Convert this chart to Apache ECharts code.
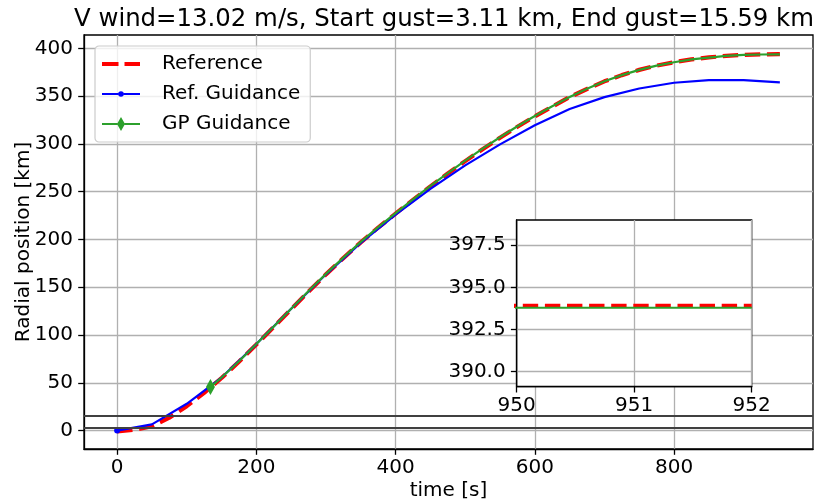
<!DOCTYPE html>
<html><head><meta charset="utf-8">
<script src="https://cdn.jsdelivr.net/npm/echarts@6/dist/echarts.min.js"></script>
<style>html,body{margin:0;padding:0;background:#fff}#c{width:826px;height:502px}</style>
</head><body><div id="c"></div>
<script>
// ---------------- data ----------------
const titleText = 'V wind=13.02 m/s, Start gust=3.11 km, End gust=15.59 km';
const gustLevels = [3.11, 15.59];
const seriesNames = ['Reference', 'Ref. Guidance', 'GP Guidance'];

const refTime = [0,25,50,75,100,125,150,175,200,225,250,275,300,325,350,375,400,425,450,475,500,525,550,575,600,625,650,675,700,725,750,775,800,825,850,875,900,925,950,952];
const refRadial = [-1.0,0.8,4.5,13.5,25.5,39.5,55,72,90,108.5,127,145.5,163.5,180.5,197,212.5,227,241.5,255.5,269,282,294.5,306.5,318,328.8,339,349,357.5,365.5,372,377.5,382,385.5,388.5,390.5,392.2,393.2,393.7,393.9,393.9];

const guidTime = [0,50,100,150,200,250,300,350,400,450,500,550,600,650,700,750,800,850,900,952];
const guidRadial = [0,6.5,28,55.5,90.5,127.5,163.5,196.5,226,253,277.5,299.5,319.5,336.5,349,358,364,366.8,366.8,364.4];

const gpTime = [134,150,175,200,225,250,275,300,325,350,375,400,425,450,475,500,525,550,575,600,625,650,675,700,725,750,775,800,825,850,875,900,925,950,952];
const gpRadial = [45.5,55.5,72.5,90.5,109,127.5,146,164,181,197.5,213,227.5,242,256,269.5,282.5,295,307,318.5,329.2,339.4,349.2,357.7,365.6,372,377.5,382,385.5,388.4,390.4,392.1,393.1,393.6,393.79,393.79];

const xTicks = [0,200,400,600,800];
const yTicks = [0,50,100,150,200,250,300,350,400];
const insetXTicks = [950,951,952];
const insetYTicks = [390,392.5,395,397.5];

// ---------------- chart ----------------
const pairs = (xs, ys) => xs.map((x, i) => [x, ys[i]]);
const RED = '#ff0000', BLUE = '#0000ff', GREEN = '#2ca02c';
const FONT = 'DejaVu Sans';
const corner = 'M0,0L0.01,0L0,0.01Z M38,14L37.99,14L38,13.99Z ';
const iconRef = 'path://' + corner + 'M0,4.9H16.5V9.1H0Z M22.5,4.9H38V9.1H22.5Z';
const iconGuid = 'path://' + corner + 'M0,5.9H16.3V8.1H0Z M21.7,5.9H38V8.1H21.7Z M16.2,7A2.8,2.8 0 1,0 21.8,7A2.8,2.8 0 1,0 16.2,7Z';
const iconGP = 'path://' + corner + 'M0,5.9H15.3V8.1H0Z M22.7,5.9H38V8.1H22.7Z M19,0L23,7L19,14L15,7Z';

const gridLine = { show: true, lineStyle: { color: '#b0b0b0', width: 1.3 } };
const axLine = { show: true, onZero: false, lineStyle: { color: '#000', width: 1.3 } };
const tick = (vals) => ({ show: true, customValues: vals, length: 5.8, lineStyle: { color: '#000', width: 1.3 } });

const guidData = pairs(guidTime, guidRadial).map((p, i) => i === 0 ? { value: p, symbol: 'circle', symbolSize: 6 } : { value: p, symbol: 'none' });
const gpData = pairs(gpTime, gpRadial).map((p, i) => i === 0 ? { value: p, symbol: 'diamond', symbolSize: [9, 16] } : { value: p, symbol: 'none' });

const chart = echarts.init(document.getElementById('c'), null, { renderer: 'canvas' });
chart.setOption({
  animation: false,
  backgroundColor: '#fff',
  textStyle: { fontFamily: FONT, color: '#000' },
  title: {
    text: titleText, left: 74, top: 8, padding: 0,
    textStyle: { fontFamily: FONT, fontSize: 24.4, fontWeight: 'normal', color: '#000' }
  },
  legend: {
    orient: 'vertical', left: 95, top: 46, padding: [8, 10, 8, 7],
    itemWidth: 38, itemHeight: 14, itemGap: 10,
    backgroundColor: 'rgba(255,255,255,0.8)', borderColor: '#cccccc', borderWidth: 1.2, borderRadius: 4,
    textStyle: { fontFamily: FONT, fontSize: 20, color: '#000', lineHeight: 20, padding: [0, 0, 0, 17] },
    itemStyle: { borderWidth: 0 },
    data: [
      { name: seriesNames[0], icon: iconRef },
      { name: seriesNames[1], icon: iconGuid },
      { name: seriesNames[2], icon: iconGP }
    ]
  },
  grid: [
    { left: 84, right: 13, top: 35, bottom: 53, outerBoundsMode: 'none', containLabel: false,
      show: true, borderColor: '#000', borderWidth: 1.3, backgroundColor: 'transparent' },
    { left: 516.7, top: 220, width: 235, height: 166.7, outerBoundsMode: 'none', containLabel: false,
      show: true, borderColor: '#000', borderWidth: 1.3, backgroundColor: '#fff', z: 5 }
  ],
  xAxis: [
    {
      type: 'value', gridIndex: 0, min: -47.6, max: 999.6,
      axisLine: axLine, axisTick: tick(xTicks),
      axisLabel: { customValues: xTicks, fontSize: 20, color: '#000', fontFamily: FONT, margin: 9 },
      splitLine: gridLine,
      name: 'time [s]', nameLocation: 'middle', nameGap: 32, nameMoveOverlap: false,
      nameTextStyle: { fontSize: 20, color: '#000', fontFamily: FONT }
    },
    {
      type: 'value', gridIndex: 1, min: 950, max: 952, z: 6,
      axisLine: axLine, axisTick: tick(insetXTicks),
      axisLabel: { customValues: insetXTicks, fontSize: 20, color: '#000', fontFamily: FONT, margin: 9 },
      splitLine: gridLine
    }
  ],
  yAxis: [
    {
      type: 'value', gridIndex: 0, min: -19.3, max: 414,
      axisLine: axLine, axisTick: tick(yTicks),
      axisLabel: { customValues: yTicks, fontSize: 20, color: '#000', fontFamily: FONT, margin: 11 },
      splitLine: gridLine,
      name: 'Radial position [km]', nameLocation: 'middle', nameGap: 50, nameRotate: 90, nameMoveOverlap: false,
      nameTextStyle: { fontSize: 20, color: '#000', fontFamily: FONT }
    },
    {
      type: 'value', gridIndex: 1, min: 389.1, max: 399.0, z: 6,
      axisLine: axLine, axisTick: tick(insetYTicks),
      axisLabel: { customValues: insetYTicks, fontSize: 20, color: '#000', fontFamily: FONT, margin: 11,
        formatter: v => Number(v).toFixed(1) },
      splitLine: gridLine
    }
  ],
  series: [
    {
      name: seriesNames[0], type: 'line', xAxisIndex: 0, yAxisIndex: 0, z: 3,
      data: pairs(refTime, refRadial), symbol: 'none',
      color: RED, lineStyle: { color: RED, width: 4.2, type: [15.4, 6.7] },
      markLine: {
        silent: true, symbol: 'none', label: { show: false }, animation: false,
        lineStyle: { color: '#404040', width: 2, type: 'solid' },
        data: gustLevels.map(v => ({ yAxis: v }))
      }
    },
    {
      name: seriesNames[1], type: 'line', xAxisIndex: 0, yAxisIndex: 0, z: 3,
      data: guidData, symbol: 'circle', showSymbol: true,
      color: BLUE, itemStyle: { color: BLUE, borderWidth: 0 }, lineStyle: { color: BLUE, width: 2.2 }
    },
    {
      name: seriesNames[2], type: 'line', xAxisIndex: 0, yAxisIndex: 0, z: 3,
      data: gpData, symbol: 'diamond', showSymbol: true,
      color: GREEN, itemStyle: { color: GREEN, borderWidth: 0 }, lineStyle: { color: GREEN, width: 2.2 }
    },
    {
      name: seriesNames[0], type: 'line', xAxisIndex: 1, yAxisIndex: 1, z: 7,
      data: pairs(refTime, refRadial), symbol: 'none', clip: true,
      color: RED, lineStyle: { color: RED, width: 4.2, type: [15.4, 6.7] }
    },
    {
      name: seriesNames[1], type: 'line', xAxisIndex: 1, yAxisIndex: 1, z: 7,
      data: pairs(guidTime, guidRadial), symbol: 'none', clip: true,
      color: BLUE, lineStyle: { color: BLUE, width: 2.2 }
    },
    {
      name: seriesNames[2], type: 'line', xAxisIndex: 1, yAxisIndex: 1, z: 7,
      data: pairs(gpTime, gpRadial), symbol: 'none', clip: true,
      color: GREEN, lineStyle: { color: GREEN, width: 2.2 }
    }
  ]
});
</script></body></html>
